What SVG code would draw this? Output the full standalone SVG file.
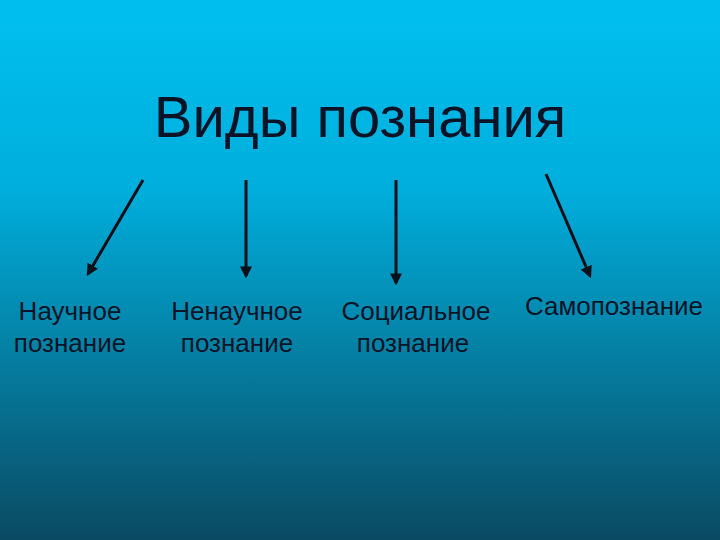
<svg xmlns="http://www.w3.org/2000/svg" width="720" height="540" viewBox="0 0 720 540">
<defs>
<linearGradient id="bg" x1="0" y1="0" x2="0" y2="1">
<stop offset="0" stop-color="#00c0f0"/>
<stop offset="0.35" stop-color="#00aedc"/>
<stop offset="1" stop-color="#0a4a62"/>
</linearGradient>
<marker id="ah" viewBox="0 0 10 10" refX="8" refY="5" markerWidth="4" markerHeight="4" orient="auto">
<path d="M0,0 L10,5 L0,10 Z" fill="#0a0f1a"/>
</marker>
<style>
text{font-family:"Liberation Sans",Arial,sans-serif;fill:#0a1426;text-anchor:middle}
.t{font-size:26px}
.c line{stroke:#0a0f1a;stroke-width:3;marker-end:url(#ah)}
</style>
</defs>
<rect width="720" height="540" fill="url(#bg)"/>
<g id="title"><text x="360" y="137" style="font-size:58px">Виды познания</text></g>
<g class="c" id="connectors">
<line x1="143" y1="180" x2="88" y2="274"/>
<line x1="246" y1="180" x2="246" y2="276"/>
<line x1="396" y1="180" x2="396" y2="283"/>
<line x1="546" y1="174" x2="590" y2="276"/>
</g>
<g id="n1"><text class="t" x="70" y="320">Научное</text><text class="t" x="70" y="352">познание</text></g>
<g id="n2"><text class="t" x="237" y="320">Ненаучное</text><text class="t" x="237" y="352">познание</text></g>
<g id="n3"><text class="t" x="416" y="320">Социальное</text><text class="t" x="413" y="352">познание</text></g>
<g id="n4"><text class="t" x="614" y="315">Самопознание</text></g>
</svg>
